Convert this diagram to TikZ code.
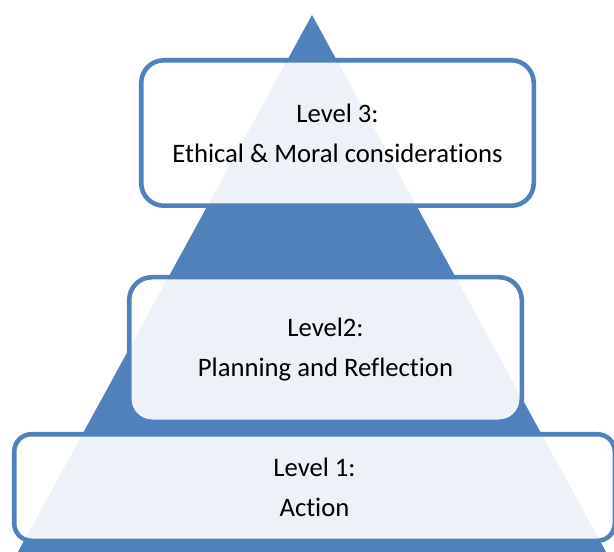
\documentclass[tikz,border=0pt]{standalone}
\usepackage{fontspec}
\setmainfont[Ligatures=NoCommon]{Carlito}
\usetikzlibrary{calc}
\definecolor{pyrblue}{HTML}{4F81BD}
\tikzset{level/.style={draw=pyrblue,line width=3.4pt,rounded corners=17pt,fill=white,fill opacity=.9,text opacity=1,align=center,font=\fontsize{20}{30}\selectfont}}

\begin{document}
\begin{tikzpicture}[x=.75pt,y=-.75pt]
\useasboundingbox (0,0) rectangle (614,552);
\clip (0,0) rectangle (614,552);
\coordinate(T) at (312,15);
\coordinate(L) at (8,570);
\coordinate(R) at (616,570);
\fill[pyrblue] (T)--(L)--(R)--cycle;
\node[level,minimum width=294.4pt,minimum height=109.1pt] (lev3) at (337.5,133) {Level 3:\\Ethical \& Moral considerations};
\node[level,minimum width=294.4pt,minimum height=108.4pt] (lev2) at (325.5,349.5) {Level2:\\Planning and Reflection};
\node[level,rounded corners=13pt,minimum width=450.4pt,minimum height=79.9pt] (lev1) at (314.5,487.5) {Level 1:\\Action};
\end{tikzpicture}
\end{document}
